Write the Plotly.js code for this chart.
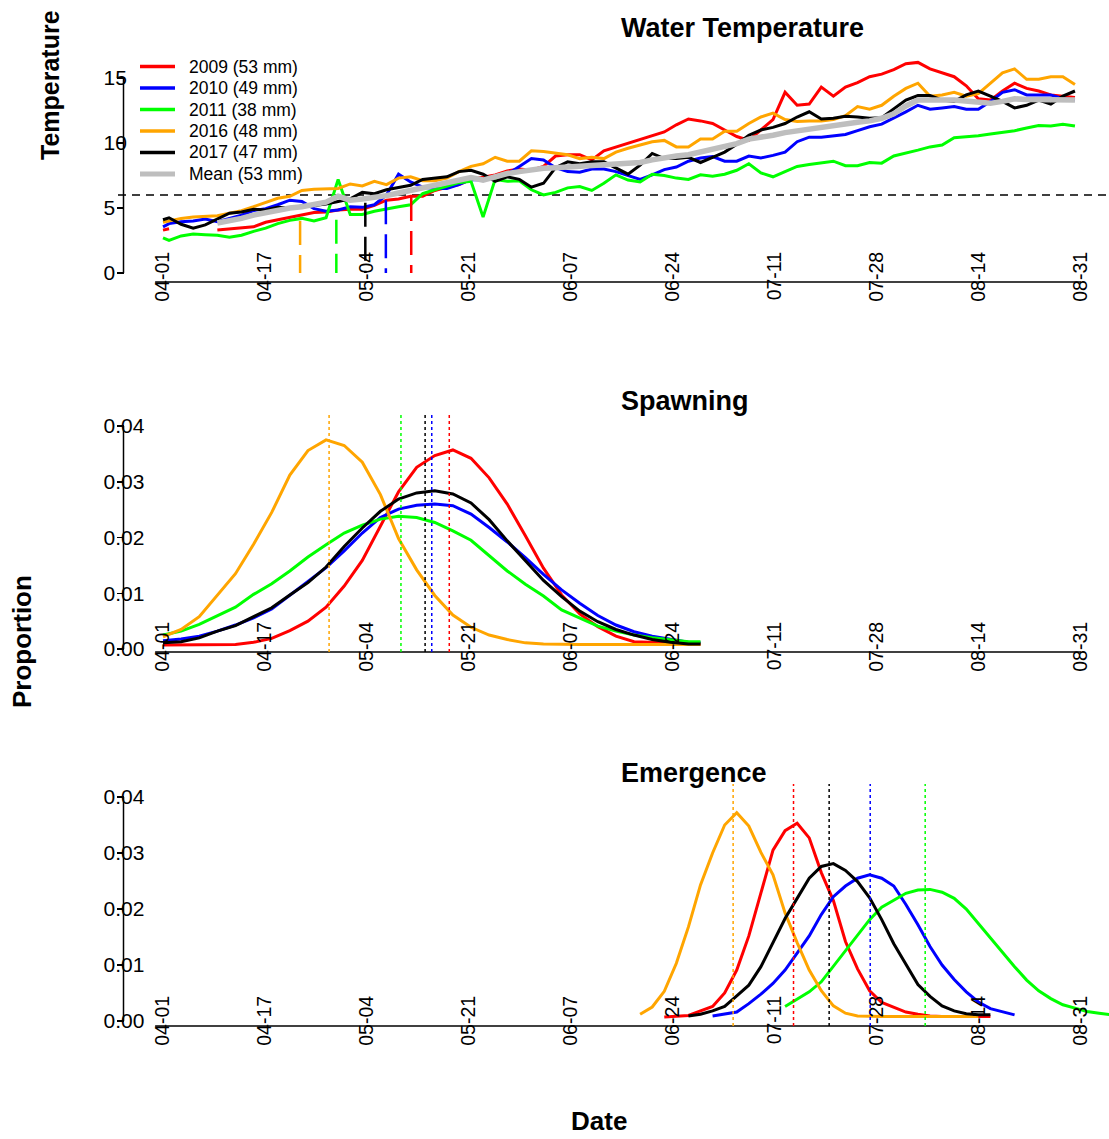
<!DOCTYPE html>
<html>
<head>
<meta charset="utf-8">
<script src="https://cdn.plot.ly/plotly-3.0.1.min.js"></script>
<style>
html,body{margin:0;padding:0;background:#fff;}
#chart{width:1109px;height:1139px;}
</style>
</head>
<body>
<div id="chart"></div>
<script>
// ---------------- DATA ----------------
const years = ['2009', '2010', '2011', '2016', '2017'];
const legendLabels = ['2009 (53 mm)', '2010 (49 mm)', '2011 (38 mm)', '2016 (48 mm)', '2017 (47 mm)', 'Mean (53 mm)'];
const dateLabels = ['04-01', '04-17', '05-04', '05-21', '06-07', '06-24', '07-11', '07-28', '08-14', '08-31'];
const lastDay = 152;               // 04-01 -> 08-31
const tempThreshold = 6;
const tempTicks = [0, 5, 10, 15];
const propTicks = [0, 0.01, 0.02, 0.03, 0.04];

// Water temperature (day index since 04-01)
const tempDay = [0,1,3,5,7,9,11,13,15,17,19,21,23,25,27,29,31,33,35,37,39,41,43,45,47,49,51,53,55,57,59,61,63,65,67,69,71,73,75,77,79,81,83,85,87,89,91,93,95,97,99,101,103,105,107,109,111,113,115,117,119,121,123,125,127,129,131,133,135,137,139,141,143,145,147,149,151];
const temp2009 = [3.3,3.4,null,null,null,3.3,3.4,3.5,3.55,3.9,4.1,4.3,4.5,4.65,4.7,4.85,4.9,4.9,5.2,5.6,5.7,5.9,5.9,6.35,6.6,6.8,7.2,7.35,7.55,7.85,8.0,7.9,8.2,9.0,9.1,9.1,8.7,9.4,9.7,10.0,10.3,10.6,10.85,11.4,11.85,11.7,11.5,11.0,10.5,10.2,11.0,11.8,13.9,12.9,13.0,14.3,13.6,14.3,14.65,15.1,15.3,15.65,16.1,16.2,15.7,15.4,15.1,14.4,13.4,13.3,14.0,14.6,14.2,14.0,13.7,13.6,13.5];
const temp2010 = [3.55,3.8,3.95,4.0,4.15,3.95,4.2,4.45,4.8,4.95,5.25,5.6,5.5,4.95,4.75,4.85,5.1,5.05,5.25,6.0,7.6,7.0,6.6,6.5,6.5,6.8,7.2,7.15,7.3,7.6,8.2,8.8,8.7,8.1,7.8,7.75,8.0,8.0,7.8,7.5,7.2,7.55,7.95,8.15,8.6,8.85,8.95,8.6,8.6,9.0,8.85,9.05,9.3,10.1,10.45,10.45,10.55,10.65,10.95,11.25,11.45,11.9,12.4,12.9,12.6,12.7,12.8,12.6,12.6,13.2,13.9,14.1,13.7,13.7,13.7,13.4,13.3];
const temp2011 = [2.7,2.5,2.85,3.0,2.95,2.9,2.75,2.9,3.2,3.45,3.8,4.05,4.2,4.0,4.25,7.2,4.5,4.5,4.75,4.95,5.1,5.25,6.1,6.4,6.7,6.95,7.05,4.3,7.2,7.05,7.1,6.4,6.0,6.2,6.55,6.65,6.35,6.9,7.55,7.15,7.0,7.6,7.5,7.3,7.2,7.55,7.45,7.6,7.9,8.4,7.7,7.4,7.8,8.2,8.35,8.45,8.6,8.25,8.25,8.5,8.45,9.0,9.2,9.45,9.7,9.85,10.4,10.45,10.55,10.7,10.8,10.95,11.15,11.35,11.3,11.45,11.3];
const temp2016 = [3.9,4.0,4.2,4.3,4.35,4.4,4.6,4.8,5.1,5.4,5.75,5.9,6.35,6.45,6.5,6.5,6.85,6.7,7.05,6.8,7.3,7.4,7.1,7.1,7.3,7.8,8.2,8.4,8.9,8.6,8.6,9.4,9.35,9.2,9.1,8.8,8.9,8.8,9.3,9.6,9.85,10.1,10.2,9.7,9.7,10.3,10.3,10.9,10.9,11.5,12.0,12.3,11.8,11.65,11.7,11.7,11.8,12.1,12.8,12.6,12.9,13.6,14.2,14.6,13.6,13.7,13.9,13.6,13.8,14.6,15.4,15.7,14.9,14.9,15.1,15.1,14.5];
const temp2017 = [4.1,4.25,3.75,3.45,3.7,4.15,4.6,4.7,4.9,4.85,5.05,5.0,5.15,5.2,5.3,5.5,5.7,6.2,6.1,6.4,6.6,6.75,7.2,7.3,7.4,7.8,7.9,7.6,7.05,7.4,7.2,6.6,6.9,8.1,8.55,8.4,8.55,8.55,8.1,7.6,8.3,9.2,8.8,8.8,8.9,8.5,8.9,9.3,9.9,10.6,11.0,11.2,11.5,12.0,12.4,11.85,11.9,12.05,12.0,11.9,11.95,12.6,13.3,13.65,13.65,13.3,13.2,13.7,14.0,13.6,13.2,12.7,12.9,13.3,13.0,13.6,14.0];
const tempMean = [null,null,null,null,null,3.85,4.0,4.2,4.45,4.65,4.8,5.0,5.1,5.3,5.45,5.9,5.6,5.7,5.8,5.95,6.15,6.35,6.55,6.75,6.95,7.2,7.35,7.15,7.45,7.65,7.8,7.95,8.05,8.1,8.15,8.2,8.25,8.3,8.3,8.35,8.5,8.7,8.9,9.0,9.1,9.3,9.5,9.7,9.95,10.3,10.4,10.6,10.8,10.95,11.05,11.2,11.35,11.5,11.6,11.7,11.9,12.25,12.85,13.3,13.35,13.3,13.3,13.2,13.1,13.05,13.2,13.4,13.35,13.35,13.4,13.35,13.3];

// Dashed markers on the temperature panel (order: 2009, 2010, 2011, 2016, 2017)
const tempMarkDay = [41.1, 36.9, 28.7, 22.7, 33.5];
const tempMarkTop = [5.85, 5.6, 4.1, 4.0, 5.4];

// Spawning proportion
const spawnDay = [0,3,6,9,12,15,18,21,24,27,30,33,36,39,42,45,48,51,54,57,60,63,66,69,72,75,78,81,84,87,89];
const spawn2009 = [.0007,.0007,.0007,.0007,.0008,.0012,.0019,.0033,.0050,.0075,.0113,.0159,.0220,.0282,.0326,.0347,.0357,.0342,.0307,.0260,.0203,.0145,.0097,.0063,.0040,.0023,.0013,.0012,.0010,.0009,.0009];
const spawn2010 = [.0015,.0018,.0023,.0032,.0043,.0056,.0072,.0096,.0121,.0146,.0176,.0208,.0236,.0251,.0258,.0260,.0257,.0242,.0218,.0192,.0164,.0134,.0106,.0082,.0060,.0043,.0031,.0023,.0017,.0012,.0011];
const spawn2011 = [.0025,.0032,.0044,.0059,.0075,.0098,.0117,.0140,.0165,.0187,.0208,.0222,.0233,.0238,.0236,.0227,.0212,.0195,.0167,.0140,.0116,.0095,.0070,.0055,.0041,.0032,.0025,.0020,.0016,.0013,.0013];
const spawn2016 = [.0022,.0035,.0058,.0097,.0135,.0188,.0245,.0312,.0356,.0375,.0365,.0335,.0277,.0198,.0142,.0096,.0061,.0039,.0025,.0017,.0011,.0009,.0008,.0008,.0008,.0008,.0008,.0008,.0008,.0008,.0008];
const spawn2017 = [.0011,.0013,.0020,.0032,.0042,.0058,.0074,.0097,.0119,.0147,.0184,.0217,.0247,.0269,.0280,.0284,.0278,.0262,.0232,.0194,.0158,.0123,.0094,.0068,.0049,.0035,.0025,.0017,.0012,.0009,.0009];
const spawnPeakDay = [47.4, 44.5, 39.4, 27.5, 43.4];

// Emergence proportion
const emergDay = [79,81,83,85,87,89,91,93,95,97,99,101,103,105,107,109,111,113,115,117,119,121,123,125,127,129,131,133,135,137,139,141,143,145,147,149,151,153,155,157];
const emerg2009 = [null,null,.0007,.0008,.0010,.0018,.0026,.0050,.0091,.0152,.0228,.0305,.0340,.0353,.0327,.0265,.0215,.0142,.0093,.0054,.0033,.0024,.0016,.0012,.0009,.0008,.0008,.0008,.0008,.0008,null,null,null,null,null,null,null,null,null,null];
const emerg2010 = [null,null,null,null,null,null,.0009,.0012,.0016,.0031,.0048,.0067,.0091,.0121,.0152,.0190,.0222,.0241,.0255,.0261,.0255,.0241,.0208,.0172,.0133,.0100,.0074,.0052,.0034,.0022,.0016,.0011,null,null,null,null,null,null,null,null];
const emerg2011 = [null,null,null,null,null,null,null,null,null,null,null,null,.0026,.0039,.0052,.0070,.0098,.0124,.0154,.0181,.0203,.0215,.0228,.0234,.0235,.0230,.0219,.0200,.0174,.0148,.0121,.0097,.0073,.0054,.0040,.0029,.0023,.0017,.0014,.0011];
const emerg2016 = [.0012,.0025,.0053,.0103,.0168,.0243,.0300,.0350,.0372,.0348,.0301,.0261,.0193,.0140,.0091,.0054,.0027,.0014,.0009,.0008,.0008,.0008,.0008,.0008,.0008,.0008,.0008,.0008,.0008,null,null,null,null,null,null,null,null,null,null,null];
const emerg2017 = [null,null,null,null,.0009,.0012,.0018,.0026,.0045,.0064,.0097,.0141,.0183,.0219,.0255,.0276,.0281,.0269,.0249,.0220,.0181,.0138,.0101,.0065,.0044,.0027,.0018,.0013,.0011,.0011,null,null,null,null,null,null,null,null,null,null];
const emergPeakDay = [104.4, 117.1, 126.2, 94.4, 110.3];

// ---------------- STYLE / GEOMETRY ----------------
const W = 1109, H = 1139;
const FONT = 'Liberation Sans, Arial, Helvetica, sans-serif';
const yearColors = ['#FF0000', '#0000FF', '#00FF00', '#FFA500', '#000000'];
const meanColor = '#BEBEBE';
const fx = p => p / W;
const fy = p => 1 - p / H;
const day0Px = 163, pxPerDay = 918 / lastDay;
const xRange = [-day0Px / pxPerDay, (W - day0Px) / pxPerDay];
const tickVals = dateLabels.map((_, i) => i * lastDay / (dateLabels.length - 1));
const yAxisPx = 123.5;

const panels = [
  {top: 50,  bot: 300,  zero: 273,  ppu: 13,   axisPx: 282,  ticks: tempTicks, fmt: v => String(v)},
  {top: 405, bot: 700,  zero: 649,  ppu: 5575, axisPx: 652,  ticks: propTicks, fmt: v => v.toFixed(2)},
  {top: 775, bot: 1075, zero: 1021, ppu: 5600, axisPx: 1026, ticks: propTicks, fmt: v => v.toFixed(2)}
];

const layout = {
  width: W, height: H,
  margin: {l: 0, r: 0, t: 0, b: 0},
  paper_bgcolor: '#ffffff', plot_bgcolor: 'rgba(0,0,0,0)',
  showlegend: false, hovermode: false,
  font: {family: FONT, color: '#000'},
  shapes: [], annotations: []
};

panels.forEach((p, i) => {
  const sfx = i === 0 ? '' : String(i + 1);
  layout['xaxis' + sfx] = {
    domain: [0, 1], range: xRange, anchor: 'free', position: fy(p.axisPx),
    showgrid: false, zeroline: false, showline: false,
    tickmode: 'array', tickvals: tickVals, ticktext: dateLabels,
    tickangle: -90, ticks: '', ticklabelstandoff: -35,
    tickfont: {family: FONT, size: 19.5, color: '#000'}, fixedrange: true
  };
  layout['yaxis' + sfx] = {
    domain: [fy(p.bot), fy(p.top)],
    range: [(p.zero - p.bot) / p.ppu, (p.zero - p.top) / p.ppu],
    anchor: 'free', position: fx(yAxisPx),
    showgrid: false, zeroline: false, showline: false,
    tickmode: 'array', tickvals: p.ticks, ticktext: p.ticks.map(p.fmt),
    ticks: 'outside', ticklen: 7, tickwidth: 1.5, tickcolor: '#000',
    ticklabelposition: 'inside', ticklabelstandoff: -24,
    tickfont: {family: FONT, size: 21, color: '#000'}, fixedrange: true
  };
  // axis lines (R style: from first to last tick)
  layout.shapes.push({type: 'line', xref: 'x' + sfx, yref: 'paper',
    x0: tickVals[0] - 1.3, x1: tickVals[tickVals.length - 1], y0: fy(p.axisPx), y1: fy(p.axisPx),
    line: {color: '#000', width: 1.5}});
  layout.shapes.push({type: 'line', xref: 'paper', yref: 'y' + sfx,
    x0: fx(yAxisPx), x1: fx(yAxisPx), y0: p.ticks[0], y1: p.ticks[p.ticks.length - 1],
    line: {color: '#000', width: 1.5}});
});

// threshold line
layout.shapes.push({type: 'line', xref: 'paper', yref: 'y', x0: fx(118), x1: 1,
  y0: tempThreshold, y1: tempThreshold, layer: 'below', line: {color: '#000', width: 1.5, dash: '8px,6px'}});

// temperature dashed markers, spawning and emergence dotted lines
years.forEach((yr, i) => {
  layout.shapes.push({type: 'line', xref: 'x', yref: 'y', x0: tempMarkDay[i], x1: tempMarkDay[i],
    y0: tempMarkTop[i], y1: 0, line: {color: yearColors[i], width: 2.5, dash: '24px,10px'}});
  layout.shapes.push({type: 'line', xref: 'x2', yref: 'paper', x0: spawnPeakDay[i], x1: spawnPeakDay[i],
    y0: fy(panels[1].axisPx), y1: fy(413), line: {color: yearColors[i], width: 1.5, dash: '3px,3px'}});
  layout.shapes.push({type: 'line', xref: 'x3', yref: 'paper', x0: emergPeakDay[i], x1: emergPeakDay[i],
    y0: fy(panels[2].axisPx), y1: fy(784), line: {color: yearColors[i], width: 1.5, dash: '3px,3px'}});
});

// manual legend
const legendColors = yearColors.concat([meanColor]);
legendLabels.forEach((lab, i) => {
  const yy = fy(66.5 + i * 21.5);
  layout.shapes.push({type: 'line', xref: 'paper', yref: 'paper', x0: fx(140), x1: fx(175), y0: yy, y1: yy,
    line: {color: legendColors[i], width: i === 5 ? 5 : 3.5}});
  layout.annotations.push({xref: 'paper', yref: 'paper', x: fx(187), y: yy, xanchor: 'left', yanchor: 'middle',
    text: lab, showarrow: false, font: {family: FONT, size: 17.5, color: '#000'}});
});

// titles
const titleFont = {family: FONT, size: 27, color: '#000', weight: 'bold'};
[['Water Temperature', 28], ['Spawning', 401], ['Emergence', 773]].forEach(([t, yy]) => {
  layout.annotations.push({xref: 'paper', yref: 'paper', x: fx(619), y: fy(yy), xanchor: 'left', yanchor: 'middle',
    text: t, showarrow: false, font: titleFont});
});
const axTitleFont = {family: FONT, size: 26, color: '#000', weight: 'bold'};
layout.annotations.push({xref: 'paper', yref: 'paper', x: fx(50), y: fy(85), xanchor: 'center', yanchor: 'middle',
  text: 'Temperature', textangle: -90, showarrow: false, font: Object.assign({}, axTitleFont, {size: 25})});
layout.annotations.push({xref: 'paper', yref: 'paper', x: fx(22), y: fy(642), xanchor: 'center', yanchor: 'middle',
  text: 'Proportion', textangle: -90, showarrow: false, font: axTitleFont});
layout.annotations.push({xref: 'paper', yref: 'paper', x: fx(599), y: fy(1138), xanchor: 'center', yanchor: 'bottom',
  text: 'Date', showarrow: false, font: axTitleFont});

// ---------------- TRACES ----------------
const traces = [];
const tempSeries = [temp2009, temp2010, temp2011, temp2016, temp2017];
const spawnSeries = [spawn2009, spawn2010, spawn2011, spawn2016, spawn2017];
const emergSeries = [emerg2009, emerg2010, emerg2011, emerg2016, emerg2017];
years.forEach((yr, i) => {
  traces.push({x: tempDay, y: tempSeries[i], xaxis: 'x', yaxis: 'y', mode: 'lines', name: yr,
    line: {color: yearColors[i], width: 3}, connectgaps: false});
});
traces.push({x: tempDay, y: tempMean, xaxis: 'x', yaxis: 'y', mode: 'lines', name: 'Mean',
  line: {color: meanColor, width: 5.5}, connectgaps: false});
years.forEach((yr, i) => {
  traces.push({x: spawnDay, y: spawnSeries[i], xaxis: 'x2', yaxis: 'y2', mode: 'lines', name: yr,
    line: {color: yearColors[i], width: 3}});
});
years.forEach((yr, i) => {
  traces.push({x: emergDay, y: emergSeries[i], xaxis: 'x3', yaxis: 'y3', mode: 'lines', name: yr,
    line: {color: yearColors[i], width: 3}, connectgaps: false});
});

Plotly.newPlot('chart', traces, layout, {staticPlot: true, displayModeBar: false});
</script>
</body>
</html>
